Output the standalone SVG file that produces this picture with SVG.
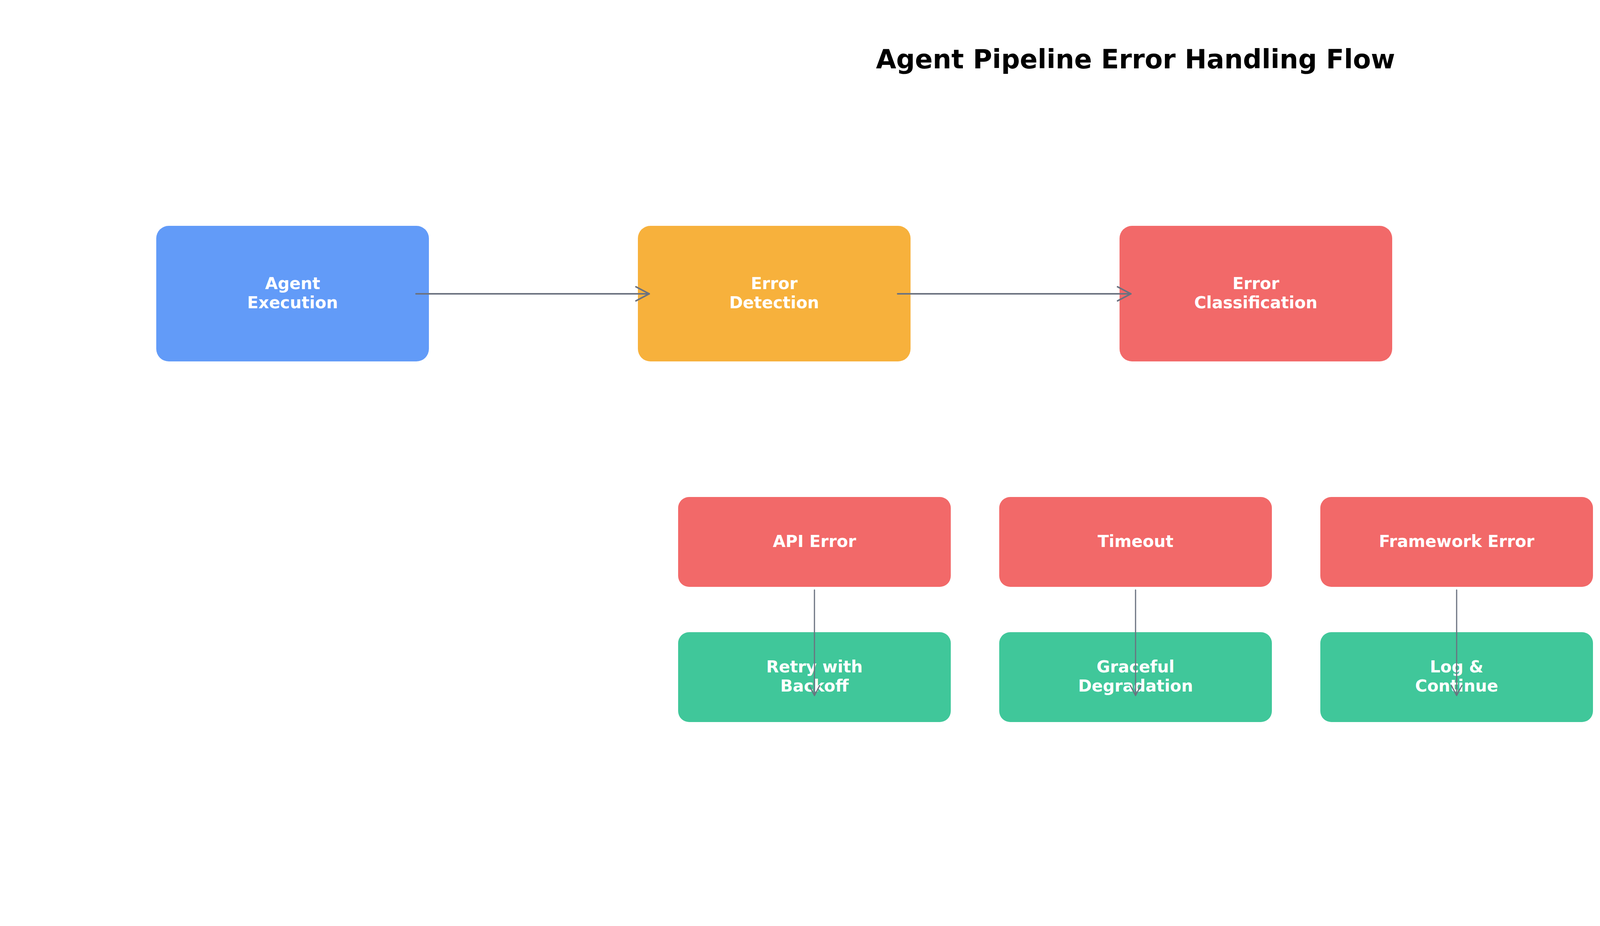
<svg xmlns="http://www.w3.org/2000/svg" width="4170" height="2370" viewBox="0 0 4170 2370">
  <style>
    .title { font-family: "DejaVu Sans", "Liberation Sans", sans-serif; font-weight: bold; font-size: 67px; fill: #000000; }
    .label { font-family: "DejaVu Sans", "Liberation Sans", sans-serif; font-weight: bold; font-size: 42px; fill: #ffffff; text-anchor: middle; }
    .blue { fill: #629bf8; }
    .orange { fill: #f7b13c; }
    .red { fill: #f26969; }
    .green { fill: #40c79a; }
    .edge { stroke: #6b7280; fill: none; stroke-linecap: round; marker-end: url(#arrow); }
    .h { stroke-width: 4; }
    .v { stroke-width: 3; }
  </style>
  <defs>
    <marker id="arrow" viewBox="0 0 10 10" refX="9" refY="5" markerWidth="10" markerHeight="10" markerUnits="strokeWidth" orient="auto" overflow="visible">
      <path d="M0.5,0.5 L9,5 L0.5,9.5" fill="none" stroke="#6b7280" stroke-width="1" stroke-linecap="round" stroke-linejoin="round"/>
    </marker>
  </defs>
  <rect width="4170" height="2370" fill="#ffffff"/>
  <text class="title" x="2907" y="175" text-anchor="middle">Agent Pipeline Error Handling Flow</text>

  <g id="node-agent-execution">
    <rect class="blue" x="400" y="578" width="698" height="347" rx="32" ry="32"/>
    <text class="label" x="749" y="740">Agent</text>
    <text class="label" x="749" y="789">Execution</text>
  </g>
  <g id="node-error-detection">
    <rect class="orange" x="1633" y="578" width="698" height="347" rx="32" ry="32"/>
    <text class="label" x="1982" y="740">Error</text>
    <text class="label" x="1982" y="789">Detection</text>
  </g>
  <g id="node-error-classification">
    <rect class="red" x="2866" y="578" width="698" height="347" rx="32" ry="32"/>
    <text class="label" x="3215" y="740">Error</text>
    <text class="label" x="3215" y="789">Classification</text>
  </g>
  <g id="node-api-error">
    <rect class="red" x="1736" y="1272" width="698" height="230" rx="28" ry="28"/>
    <text class="label" x="2085" y="1400">API Error</text>
  </g>
  <g id="node-timeout">
    <rect class="red" x="2558" y="1272" width="698" height="230" rx="28" ry="28"/>
    <text class="label" x="2907" y="1400">Timeout</text>
  </g>
  <g id="node-framework-error">
    <rect class="red" x="3380" y="1272" width="698" height="230" rx="28" ry="28"/>
    <text class="label" x="3729" y="1400">Framework Error</text>
  </g>
  <g id="node-retry-backoff">
    <rect class="green" x="1736" y="1618" width="698" height="230" rx="28" ry="28"/>
    <text class="label" x="2085" y="1721">Retry with</text>
    <text class="label" x="2085" y="1770">Backoff</text>
  </g>
  <g id="node-graceful-degradation">
    <rect class="green" x="2558" y="1618" width="698" height="230" rx="28" ry="28"/>
    <text class="label" x="2907" y="1721">Graceful</text>
    <text class="label" x="2907" y="1770">Degradation</text>
  </g>
  <g id="node-log-continue">
    <rect class="green" x="3380" y="1618" width="698" height="230" rx="28" ry="28"/>
    <text class="label" x="3729" y="1721">Log &amp;</text>
    <text class="label" x="3729" y="1770">Continue</text>
  </g>

  <g id="connectors">
    <line class="edge h" x1="1065" y1="752" x2="1662" y2="752"/>
    <line class="edge h" x1="2298" y1="752" x2="2895" y2="752"/>
    <line class="edge v" x1="2085" y1="1510" x2="2085" y2="1780"/>
    <line class="edge v" x1="2907" y1="1510" x2="2907" y2="1780"/>
    <line class="edge v" x1="3729" y1="1510" x2="3729" y2="1780"/>
  </g>
</svg>
